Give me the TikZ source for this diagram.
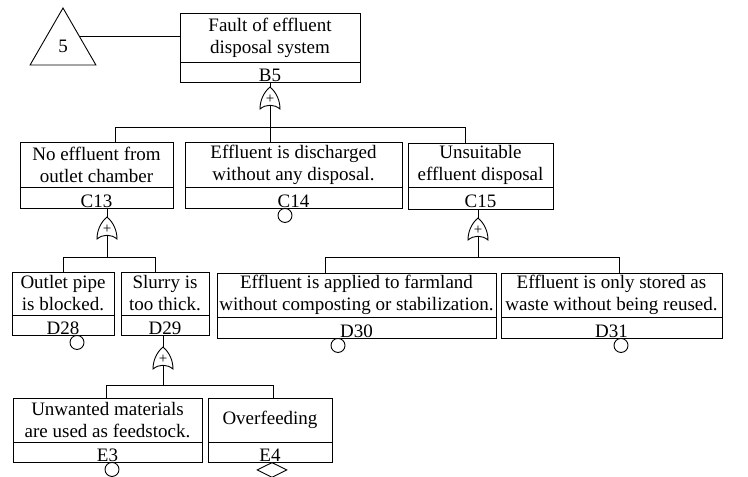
\documentclass[tikz,border=0pt]{standalone}
\usepackage{fontspec}
\setmainfont{Liberation Serif}
\usetikzlibrary{shapes.geometric, positioning}

\begin{document}
\begin{tikzpicture}[
      x=1pt, y=-1pt,
      line width=0.9pt,
      evt/.style={draw, align=center, inner sep=0pt, font=\fontsize{19}{22}\selectfont},
      evtid/.style={draw, inner sep=0pt, text height=18pt, text depth=0pt, font=\fontsize{19}{22}\selectfont},
      basic/.style={draw, circle, inner sep=0pt, minimum size=14pt, anchor=north, fill=white},
      undev/.style={draw, diamond, inner sep=0pt, minimum width=30pt, minimum height=15pt, anchor=north, fill=white},
      transfer/.style={draw, regular polygon, regular polygon sides=3, minimum size=76pt, inner sep=0pt, font=\fontsize{19}{22}\selectfont},
      orgate/.pic={
        \draw[fill=white] (-10,11) .. controls (-10,2) and (-6,-6) .. (0,-11)
          .. controls (6,-6) and (10,2) .. (10,11)
          .. controls (4,6) and (-4,6) .. cycle;
        \node[inner sep=0pt, font=\fontsize{15}{15}\selectfont] at (0,1) {+};
        \coordinate (-top) at (0,-11);
        \coordinate (-bot) at (0,7.3);
      },
    ]
    \useasboundingbox (0,0) rectangle (748,477);

    \node[transfer] (tri) at (63,46) {5};
    \node[evt, minimum width=180pt, minimum height=49pt] (b5) at (270,37.5) {Fault of effluent\\disposal system};
    \node[evtid, minimum width=180pt, minimum height=20pt, below=0pt of b5] (b5id) {B5};
    \draw (tri.side 3) -- (tri.side 3 -| b5.west);

    \node[evt, minimum width=153pt, minimum height=45pt] (c13) at (96.5,164.5) {No effluent from\\outlet chamber};
    \node[evtid, minimum width=153pt, minimum height=21pt, below=0pt of c13] (c13id) {C13};
    \node[evt, minimum width=217pt, minimum height=45pt] (c14) at (293.5,164.5) {Effluent is discharged\\without any disposal.};
    \node[evtid, minimum width=217pt, minimum height=21pt, below=0pt of c14] (c14id) {C14};
    \node[evt, minimum width=145pt, minimum height=44pt] (c15) at (480.5,165) {Unsuitable\\effluent disposal};
    \node[evtid, minimum width=145pt, minimum height=22pt, below=0pt of c15] (c15id) {C15};

    \node[evt, minimum width=102pt, minimum height=43pt] (d28) at (63,293.5) {Outlet pipe\\is blocked.};
    \node[evtid, minimum width=102pt, minimum height=20pt, below=0pt of d28] (d28id) {D28};
    \node[evt, minimum width=88pt, minimum height=43pt] (d29) at (165,293.5) {Slurry is\\too thick.};
    \node[evtid, minimum width=88pt, minimum height=20pt, below=0pt of d29] (d29id) {D29};
    \node[evt, minimum width=279pt, minimum height=44pt] (d30) at (356.5,295) {Effluent is applied to farmland\\without composting or stabilization.};
    \node[evtid, minimum width=279pt, minimum height=21pt, below=0pt of d30] (d30id) {D30};
    \node[evt, minimum width=221pt, minimum height=44pt] (d31) at (611.5,295) {Effluent is only stored as\\waste without being reused.};
    \node[evtid, minimum width=221pt, minimum height=21pt, below=0pt of d31] (d31id) {D31};

    \node[evt, minimum width=189pt, minimum height=44pt] (e3) at (107.5,420) {Unwanted materials\\are used as feedstock.};
    \node[evtid, minimum width=189pt, minimum height=20pt, below=0pt of e3] (e3id) {E3};
    \node[evt, minimum width=124pt, minimum height=44pt] (e4) at (270,420) {Overfeeding};
    \node[evtid, minimum width=124pt, minimum height=20pt, below=0pt of e4] (e4id) {E4};

    \node[basic] (c14b) at (285,208) {};
    \node[basic] (d28b) at (77,335) {};
    \node[basic] (d30b) at (338,338) {};
    \node[basic] (d31b) at (621,338) {};
    \node[basic] (e3b) at (112,462) {};
    \node[undev] (e4b) at (272,462) {};

    \pic (g1) at (270,98) {orgate};
    \pic (g2) at (107,228) {orgate};
    \pic (g3) at (478,229) {orgate};
    \pic (g4) at (163,358) {orgate};

    \coordinate (j1) at (115,127);
    \coordinate (j2) at (465,127);
    \coordinate (j3) at (63,257);
    \coordinate (j4) at (155,257);
    \coordinate (j5) at (325,257);
    \coordinate (j6) at (619,257);
    \coordinate (j7) at (106,385);
    \coordinate (j8) at (273,385);

    \draw (g1-top |- b5id.south) -- (g1-top);
    \draw (g1-bot) -- (g1-bot |- c14.north);
    \draw (c13.north -| j1) -- (j1) -- (j2) -- (c15.north -| j2);

    \draw (g2-top |- c13id.south) -- (g2-top);
    \draw (g2-bot) -- (g2-bot |- j3);
    \draw (d28.north -| j3) -- (j3) -- (j4) -- (d29.north -| j4);

    \draw (g3-top |- c15id.south) -- (g3-top);
    \draw (g3-bot) -- (g3-bot |- j5);
    \draw (d30.north -| j5) -- (j5) -- (j6) -- (d31.north -| j6);

    \draw (g4-top |- d29id.south) -- (g4-top);
    \draw (g4-bot) -- (g4-bot |- j7);
    \draw (e3.north -| j7) -- (j7) -- (j8) -- (e4.north -| j8);
  \end{tikzpicture}
\end{document}
